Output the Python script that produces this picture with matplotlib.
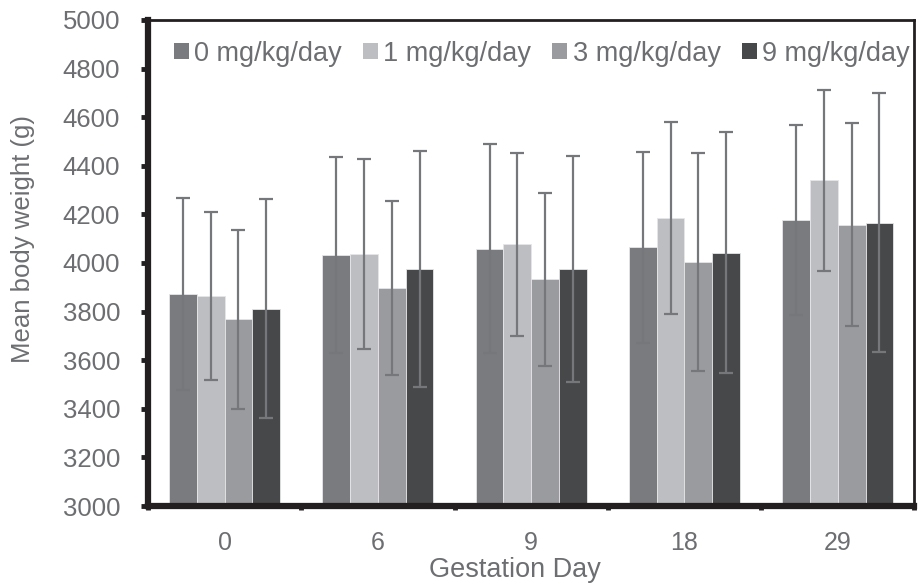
import matplotlib
matplotlib.use("Agg")
import matplotlib.pyplot as plt
import numpy as np

plt.rcParams['font.family'] = ['Liberation Sans', 'DejaVu Sans']

# data
days = ["0", "6", "9", "18", "29"]
doses = ["0 mg/kg/day", "1 mg/kg/day", "3 mg/kg/day", "9 mg/kg/day"]
means = [
    [3872, 4032, 4058, 4065, 4177],   # 0 mg/kg/day
    [3864, 4036, 4077, 4185, 4340],   # 1 mg/kg/day
    [3768, 3898, 3933, 4004, 4158],   # 3 mg/kg/day
    [3812, 3975, 3975, 4042, 4165],   # 9 mg/kg/day
]
sds = [
    [394, 404, 430, 393, 390],
    [347, 392, 376, 396, 372],
    [368, 357, 356, 447, 418],
    [450, 486, 466, 496, 533],
]
colors = ["#7a7b7f", "#bdbec2", "#9a9b9f", "#474849"]

text_col = "#6d6e71"
err_col = "#76777a"

fig = plt.figure(figsize=(9.19, 5.85), dpi=100)
ax = fig.add_axes([0.161, 0.135, 0.834, 0.831])

x = np.arange(len(days))
w = 0.181
for i in range(len(doses)):
    pos = x + (i - 1.5) * w
    ax.bar(pos, np.array(means[i]) - 3000, w, bottom=3000, color=colors[i],
           edgecolor="#e6e6e8", linewidth=0.6, label=doses[i], zorder=2)
    ax.errorbar(pos, means[i], yerr=sds[i], fmt="none", ecolor=err_col,
                elinewidth=1.6, capsize=5, capthick=1.6, zorder=3)

ax.set_xlim(-0.5, len(days) - 0.5)
ax.set_ylim(3000, 5000)
ax.set_yticks(np.arange(3000, 5001, 200))
ax.set_xticks(x)
ax.set_xticklabels(days)
ax.set_xticks(np.arange(-0.5, len(days)), minor=True)

ax.tick_params(axis="y", direction="out", length=5, width=3.5, color="#231f20",
               labelsize=18.5, labelcolor=text_col, pad=15)
ax.tick_params(axis="x", which="major", length=0, labelsize=18,
               labelcolor=text_col, pad=18)
ax.tick_params(axis="x", which="minor", direction="out", length=3, width=3.5,
               color="#231f20")

for side in ["left", "bottom"]:
    ax.spines[side].set_linewidth(4.5)
    ax.spines[side].set_color("#231f20")
for side in ["top", "right"]:
    ax.spines[side].set_linewidth(2)
    ax.spines[side].set_color("#231f20")

ax.set_ylabel("Mean body weight (g)", fontsize=18.5, color=text_col)
ax.yaxis.set_label_coords(-0.147, 0.55)
ax.set_xlabel("Gestation Day", fontsize=19.5, color=text_col)
ax.xaxis.set_label_coords(0.479, -0.105)

leg = ax.legend(loc="center right", bbox_to_anchor=(0.994, 0.93), ncol=4,
                frameon=False, fontsize=19.5, handlelength=0.55, handleheight=0.55,
                handletextpad=0.2, columnspacing=0.78, borderaxespad=0, borderpad=0)
for t in leg.get_texts():
    t.set_color(text_col)
for h in leg.legend_handles:
    h.set_edgecolor("none")

fig.savefig("out.png", dpi=100)
